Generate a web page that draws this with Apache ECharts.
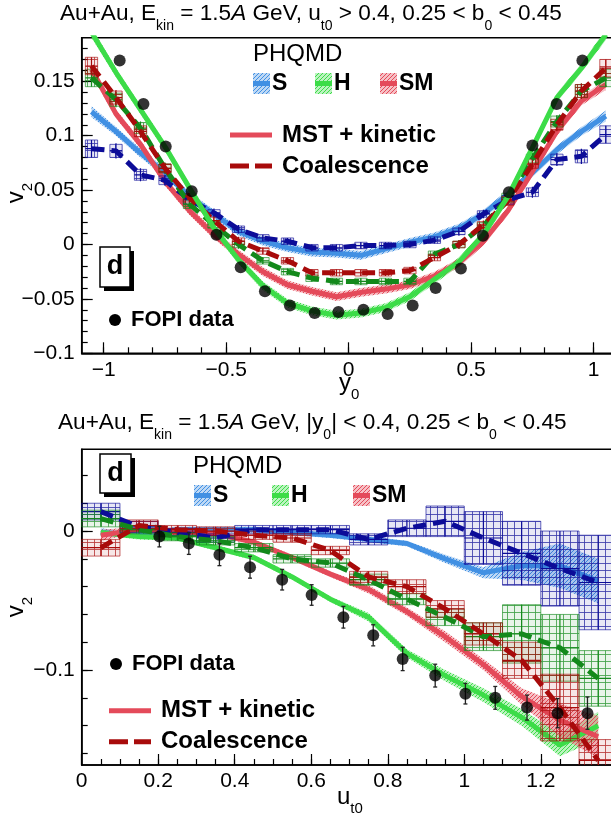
<!DOCTYPE html>
<html>
<head>
<meta charset="utf-8">
<script src="https://cdn.jsdelivr.net/npm/echarts@6/dist/echarts.min.js"></script>
<style>
  html, body { margin: 0; padding: 0; background: #fff; }
  #c { width: 611px; height: 821px; }
</style>
</head>
<body>
<div id="c"></div>
<script>
// ---------------- data: upper panel, v2 vs y0 ----------------
const yBins = [-1.05, -0.95, -0.85, -0.75, -0.65, -0.55, -0.45, -0.35, -0.25, -0.15, -0.05,
               0.05, 0.15, 0.25, 0.35, 0.45, 0.55, 0.65, 0.75, 0.85, 0.95, 1.05];
// MST + kinetic (solid, hatched band)
const topS_mst  = [0.122, 0.104, 0.084, 0.066, 0.044, 0.028, 0.012, 0.003, -0.003, -0.007, -0.008,
                   -0.010, -0.004, 0.002, 0.007, 0.015, 0.028, 0.046, 0.066, 0.087, 0.104, 0.118];
const topH_mst  = [0.195, 0.158, 0.124, 0.090, 0.052, 0.015, -0.014, -0.038, -0.054, -0.061, -0.065,
                   -0.063, -0.058, -0.048, -0.032, -0.016, 0.009, 0.044, 0.089, 0.135, 0.162, 0.193];
const topSM_mst = [0.161, 0.120, 0.092, 0.058, 0.031, 0.009, -0.009, -0.025, -0.037, -0.043, -0.048,
                   -0.044, -0.041, -0.037, -0.029, -0.017, 0.003, 0.031, 0.067, 0.104, 0.132, 0.147];
const topMstErr = [0.005, 0.004, 0.004, 0.004, 0.004, 0.004, 0.004, 0.004, 0.004, 0.004, 0.004,
                   0.004, 0.004, 0.004, 0.004, 0.004, 0.004, 0.004, 0.004, 0.004, 0.004, 0.005];
// Coalescence (dashed, error crosses + boxes)
const topS_coal  = [0.088, 0.086, 0.064, 0.059, 0.041, 0.029, 0.014, 0.006, 0.003, -0.003, -0.003,
                    -0.001, -0.001, 0.000, 0.004, 0.012, 0.028, 0.041, 0.048, 0.078, 0.081, 0.101];
const topH_coal  = [0.153, 0.133, 0.107, 0.070, 0.037, 0.018, 0.000, -0.015, -0.025, -0.031, -0.034,
                    -0.034, -0.034, -0.034, -0.009, 0.000, 0.017, 0.043, 0.079, 0.113, 0.141, 0.153];
const topSM_coal = [0.164, 0.135, 0.104, 0.070, 0.043, 0.022, 0.003, -0.006, -0.015, -0.026, -0.026,
                    -0.026, -0.026, -0.024, -0.012, 0.000, 0.018, 0.040, 0.074, 0.110, 0.141, 0.162];
const topCoalErr = [0.008, 0.007, 0.006, 0.005, 0.004, 0.004, 0.004, 0.003, 0.003, 0.003, 0.003,
                    0.003, 0.003, 0.003, 0.003, 0.004, 0.004, 0.004, 0.005, 0.006, 0.007, 0.008];
const topCoalBox = [0.008, 0.006, 0.005, 0.004, 0.004, 0.003, 0.003, 0.003, 0.003, 0.003, 0.003,
                    0.003, 0.003, 0.003, 0.003, 0.003, 0.003, 0.004, 0.004, 0.005, 0.006, 0.008];
// FOPI measurement
const topFopiY0 = [-0.935, -0.838, -0.747, -0.641, -0.540, -0.441, -0.342, -0.240, -0.139, -0.042,
                   0.060, 0.159, 0.261, 0.355, 0.458, 0.548, 0.654, 0.750, 0.849, 0.954];
const topFopiV2 = [0.169, 0.129, 0.090, 0.049, 0.009, -0.021, -0.043, -0.056, -0.063, -0.062,
                   -0.060, -0.064, -0.056, -0.040, -0.022, 0.008, 0.048, 0.091, 0.129, 0.169];

// ---------------- data: lower panel, v2 vs ut0 ----------------
const uBins = [0.05, 0.15, 0.25, 0.35, 0.45, 0.55, 0.65, 0.75, 0.85, 0.95, 1.05, 1.15, 1.25, 1.35];
const botS_mst     = [-0.001, -0.003, 0.001, 0.001, 0.001, -0.001, -0.003, -0.006, -0.009, -0.020, -0.030, -0.025, -0.025, -0.036];
const botS_mstErr  = [0.003, 0.002, 0.002, 0.002, 0.002, 0.002, 0.002, 0.002, 0.002, 0.003, 0.004, 0.010, 0.016, 0.016];
const botH_mst     = [-0.001, -0.004, -0.005, -0.012, -0.019, -0.033, -0.049, -0.062, -0.088, -0.104, -0.118, -0.134, -0.154, -0.140];
const botH_mstErr  = [0.002, 0.002, 0.002, 0.002, 0.002, 0.002, 0.002, 0.003, 0.003, 0.004, 0.005, 0.006, 0.008, 0.010];
const botSM_mst    = [-0.003, 0.001, -0.001, -0.002, -0.008, -0.019, -0.031, -0.042, -0.058, -0.076, -0.096, -0.119, -0.136, -0.148];
const botSM_mstErr = [0.004, 0.002, 0.002, 0.002, 0.002, 0.002, 0.002, 0.003, 0.003, 0.004, 0.004, 0.006, 0.012, 0.015];
const botS_coal     = [0.014, 0.003, -0.001, -0.005, 0.001, 0.001, 0.001, -0.006, 0.002, 0.007, -0.005, -0.016, -0.027, -0.037];
const botS_coalErr  = [0.006, 0.004, 0.003, 0.003, 0.003, 0.003, 0.003, 0.004, 0.006, 0.011, 0.019, 0.023, 0.027, 0.034];
const botH_coal     = [0.009, 0.001, -0.004, -0.007, -0.012, -0.020, -0.023, -0.035, -0.049, -0.062, -0.076, -0.074, -0.084, -0.106];
const botH_coalErr  = [0.006, 0.003, 0.003, 0.003, 0.003, 0.003, 0.003, 0.004, 0.004, 0.006, 0.010, 0.021, 0.024, 0.020];
const botSM_coal    = [-0.012, 0.004, 0.001, 0.000, -0.003, -0.005, -0.014, -0.033, -0.040, -0.056, -0.074, -0.093, -0.127, -0.165];
const botSM_coalErr = [0.006, 0.004, 0.003, 0.003, 0.003, 0.003, 0.003, 0.004, 0.005, 0.006, 0.008, 0.013, 0.024, 0.015];
const botFopiU   = [0.203, 0.280, 0.360, 0.440, 0.524, 0.601, 0.684, 0.762, 0.839, 0.924, 1.003, 1.081, 1.164, 1.244, 1.322];
const botFopiV2  = [-0.004, -0.009, -0.017, -0.026, -0.035, -0.046, -0.062, -0.075, -0.092, -0.104, -0.117, -0.120, -0.127, -0.131, -0.131];
const botFopiErr = [0.0074, 0.0078, 0.0079, 0.0079, 0.0074, 0.0074, 0.0078, 0.0076, 0.0084, 0.0082, 0.0074, 0.0082, 0.0090, 0.0105, 0.0116];

// ---------------- tick labels ----------------
const topXTicks = [-1, -0.5, 0, 0.5, 1];
const topYTicks = [-0.1, -0.05, 0, 0.05, 0.1, 0.15];
const botXTicks = [0, 0.2, 0.4, 0.6, 0.8, 1, 1.2];
const botYTicks = [-0.1, 0];

// ---------------- styling ----------------
const FONT = '"Liberation Sans", Arial, sans-serif';
const COL = {
  sL: '#4190e3', sD: '#0c0c98',
  hL: '#3cdc48', hD: '#13891b',
  smL: '#e44a5a', smD: '#a80b0b'
};

function steps(a, b, d) {            // evenly spaced tick positions
  const out = [];
  for (let v = a; v <= b + 1e-9; v += d) out.push(Math.round(v * 1000) / 1000);
  return out;
}
function fmt(v) {
  return String(Math.round(v * 1000) / 1000).replace('-', '\u2212');
}

// hatch fills drawn into small canvases
function diagHatch(color) {
  const c = document.createElement('canvas');
  c.width = c.height = 4;
  const g = c.getContext('2d');
  g.globalAlpha = 0.35; g.fillStyle = color; g.fillRect(0, 0, 4, 4);
  g.globalAlpha = 1; g.strokeStyle = color; g.lineWidth = 1;
  g.beginPath();
  g.moveTo(0, 4); g.lineTo(4, 0);
  g.moveTo(-2, 2); g.lineTo(2, -2);
  g.moveTo(2, 6); g.lineTo(6, 2);
  g.stroke();
  return { image: c, repeat: 'repeat' };
}
function gridHatch(color) {
  const c = document.createElement('canvas');
  c.width = c.height = 7;
  const g = c.getContext('2d');
  g.globalAlpha = 0.12; g.fillStyle = color; g.fillRect(0, 0, 7, 7);
  g.globalAlpha = 0.85; g.strokeStyle = color; g.lineWidth = 1;
  g.beginPath();
  g.moveTo(0, 3.5); g.lineTo(7, 3.5);
  g.moveTo(3.5, 0); g.lineTo(3.5, 7);
  g.stroke();
  return { image: c, repeat: 'repeat' };
}

const zip = (xs, ...cols) => xs.map((x, i) => [x, ...cols.map(c => c[i])]);

// ---------------- series builders ----------------
function band(ax, xs, ys, es, color) {
  const pat = diagHatch(color);
  return {
    type: 'custom', xAxisIndex: ax, yAxisIndex: ax, data: [[xs[0], ys[0]]], clip: true, z: 1,
    silent: true,
    renderItem: (params, api) => {
      const pts = [];
      for (let i = 0; i < xs.length; i++) pts.push(api.coord([xs[i], ys[i] + es[i]]));
      for (let i = xs.length - 1; i >= 0; i--) pts.push(api.coord([xs[i], ys[i] - es[i]]));
      return { type: 'polygon', shape: { points: pts }, style: { fill: pat, stroke: null } };
    }
  };
}
function solid(ax, xs, ys, color, z) {
  return {
    type: 'line', xAxisIndex: ax, yAxisIndex: ax, data: zip(xs, ys), symbol: 'none', z: z || 3,
    silent: true, lineStyle: { color: color, width: 5 }
  };
}
function dashed(ax, xs, ys, color) {
  return {
    type: 'line', xAxisIndex: ax, yAxisIndex: ax, data: zip(xs, ys), symbol: 'none', z: 5,
    silent: true, lineStyle: { color: color, width: 5, type: [13, 7] }
  };
}
function crosses(ax, xs, ys, es, bs, color, halfW) {
  const pat = gridHatch(color);
  return {
    type: 'custom', xAxisIndex: ax, yAxisIndex: ax, data: zip(xs, ys, es, bs), clip: true, z: 4,
    silent: true, encode: { x: 0, y: 1 },
    renderItem: (params, api) => {
      const x = api.value(0), y = api.value(1), e = api.value(2), b = api.value(3);
      const a = api.coord([x - halfW, y + b]), d = api.coord([x + halfW, y - b]);
      const t = api.coord([x, y + e]), u = api.coord([x, y - e]);
      const l = api.coord([x - halfW, y]), r = api.coord([x + halfW, y]);
      return {
        type: 'group', children: [
          { type: 'rect', shape: { x: a[0], y: a[1], width: d[0] - a[0], height: d[1] - a[1] },
            style: { fill: pat, stroke: color, lineWidth: 0.8, opacity: 0.8 } },
          { type: 'line', shape: { x1: t[0], y1: t[1], x2: u[0], y2: u[1] }, style: { stroke: color, lineWidth: 1.2 } },
          { type: 'line', shape: { x1: l[0], y1: l[1], x2: r[0], y2: r[1] }, style: { stroke: color, lineWidth: 1.2 } }
        ]
      };
    }
  };
}
function fopi(ax, xs, ys) {
  return {
    type: 'scatter', xAxisIndex: ax, yAxisIndex: ax, data: zip(xs, ys), symbol: 'circle',
    symbolSize: 12, itemStyle: { color: '#000' }, z: 8, silent: true
  };
}
function fopiErr(ax, xs, ys, es) {
  return {
    type: 'custom', xAxisIndex: ax, yAxisIndex: ax, data: zip(xs, ys, es), z: 7, silent: true,
    encode: { x: 0, y: 1 },
    renderItem: (params, api) => {
      const x = api.value(0), y = api.value(1), e = api.value(2);
      const t = api.coord([x, y + e]), b = api.coord([x, y - e]);
      const s = { stroke: '#222', lineWidth: 1.3 };
      return {
        type: 'group', children: [
          { type: 'line', shape: { x1: t[0], y1: t[1], x2: b[0], y2: b[1] }, style: s },
          { type: 'line', shape: { x1: t[0] - 2, y1: t[1], x2: t[0] + 2, y2: t[1] }, style: s },
          { type: 'line', shape: { x1: b[0] - 2, y1: b[1], x2: b[0] + 2, y2: b[1] }, style: s }
        ]
      };
    }
  };
}

// ---------------- axes ----------------
function mainAxis(dim, grid, min, max, ticks) {
  return {
    type: 'value', gridIndex: grid, min: min, max: max, position: dim === 'x' ? 'bottom' : 'left',
    axisLine: { show: true, onZero: false, lineStyle: { color: '#000', width: 1.5 } },
    axisTick: { show: true, inside: true, length: 11, customValues: ticks, lineStyle: { color: '#000', width: 1.2 } },
    axisLabel: { show: true, customValues: ticks, formatter: fmt, color: '#000', fontSize: 21, fontFamily: FONT,
                 margin: dim === 'x' ? 6 : 7, hideOverlap: false },
    splitLine: { show: false }
  };
}
function minorAxis(dim, grid, min, max, ticks) {
  return {
    type: 'value', gridIndex: grid, min: min, max: max, position: dim === 'x' ? 'bottom' : 'left',
    axisLine: { show: false, onZero: false },
    axisTick: { show: true, inside: true, length: 6, customValues: ticks, lineStyle: { color: '#000', width: 1.2 } },
    axisLabel: { show: false },
    splitLine: { show: false }
  };
}

// ---------------- text helpers ----------------
function richStyles(fs, subFs, subPad, bold) {
  const w = bold ? 'bold' : 'normal';
  return {
    m: { fontSize: fs, lineHeight: fs + 2, verticalAlign: 'top', fontFamily: FONT, fontWeight: w, color: '#000' },
    i: { fontSize: fs, lineHeight: fs + 2, verticalAlign: 'top', fontFamily: FONT, fontWeight: w, fontStyle: 'italic', color: '#000' },
    s: { fontSize: subFs, lineHeight: subFs, verticalAlign: 'top', padding: [subPad, 0, 0, 0], fontFamily: FONT, fontWeight: w, color: '#000' }
  };
}
function plainText(x, y, str, size, bold) {
  return {
    type: 'text', x: x, y: y, z: 100,
    style: { text: str, font: (bold ? 'bold ' : '') + size + 'px ' + FONT, fill: '#000',
             align: 'left', verticalAlign: 'middle', textAlign: 'left', textVerticalAlign: 'middle' }
  };
}
function dBox(x, y, w, h) {
  return [
    { type: 'rect', z: 100, shape: { x: x + 4, y: y + 4, width: w, height: h }, style: { fill: '#000' } },
    { type: 'rect', z: 101, shape: { x: x, y: y, width: w, height: h }, style: { fill: '#fff', stroke: '#000', lineWidth: 1.5 } },
    { type: 'text', z: 102, x: x + w / 2, y: y + h / 2,
      style: { text: 'd', font: 'bold 27px ' + FONT, fill: '#000', align: 'center', verticalAlign: 'middle',
               textAlign: 'center', textVerticalAlign: 'middle' } }
  ];
}
function modelKey(x, y, color) {
  return [
    { type: 'rect', z: 100, shape: { x: x, y: y, width: 17, height: 21 }, style: { fill: diagHatch(color) } },
    { type: 'line', z: 101, shape: { x1: x, y1: y + 10.5, x2: x + 17, y2: y + 10.5 }, style: { stroke: color, lineWidth: 5 } }
  ];
}
function legendBlock(o) {
  const g = [];
  g.push(plainText(o.phX, o.phY, 'PHQMD', 24, false));
  g.push(...modelKey(o.sX, o.keyY, COL.sL), plainText(o.sX + 19, o.keyY + 11, 'S', 23, true));
  g.push(...modelKey(o.hX, o.keyY, COL.hL), plainText(o.hX + 19, o.keyY + 11, 'H', 23, true));
  g.push(...modelKey(o.smX, o.keyY, COL.smL), plainText(o.smX + 19, o.keyY + 11, 'SM', 23, true));
  g.push({ type: 'line', z: 100, shape: { x1: o.lnX, y1: o.mstY, x2: o.lnX + 42, y2: o.mstY },
           style: { stroke: COL.smL, lineWidth: 5 } });
  g.push(plainText(o.lnX + 52, o.mstY, 'MST + kinetic', 24, true));
  g.push({ type: 'line', z: 100, shape: { x1: o.lnX, y1: o.coalY, x2: o.lnX + 42, y2: o.coalY },
           style: { stroke: COL.smD, lineWidth: 5, lineDash: [19, 6] } });
  g.push(plainText(o.lnX + 52, o.coalY, 'Coalescence', 24, true));
  g.push({ type: 'circle', z: 100, shape: { cx: o.fX, cy: o.fY, r: 6 }, style: { fill: '#000' } });
  g.push(plainText(o.fX + 16, o.fY, 'FOPI data', 22, true));
  return g;
}

// ---------------- chart ----------------
const chart = echarts.init(document.getElementById('c'), null, { renderer: 'canvas' });

const titleRich = richStyles(22.6, 14, 17, false);
const v2Rich = richStyles(24, 15, 16, false);

const gridBase = { show: true, borderColor: '#000', borderWidth: 1.5, backgroundColor: 'transparent',
                   containLabel: false, outerBoundsMode: 'none' };

const option = {
  animation: false,
  backgroundColor: '#fff',
  grid: [
    Object.assign({ left: 81.7, top: 37.7, width: 534, height: 315.6 }, gridBase),
    Object.assign({ left: 81.7, top: 449.3, width: 535.6, height: 315.7 }, gridBase)
  ],
  xAxis: [
    mainAxis('x', 0, -1.09, 1.09, topXTicks),
    minorAxis('x', 0, -1.09, 1.09, steps(-1, 1, 0.1)),
    mainAxis('x', 1, 0, 1.4, botXTicks),
    minorAxis('x', 1, 0, 1.4, steps(0.05, 1.35, 0.05))
  ],
  yAxis: [
    mainAxis('y', 0, -0.1, 0.19, topYTicks),
    minorAxis('y', 0, -0.1, 0.19, steps(-0.09, 0.18, 0.01)),
    mainAxis('y', 1, -0.1683, 0.0588, botYTicks),
    minorAxis('y', 1, -0.1683, 0.0588, steps(-0.16, 0.04, 0.02))
  ],
  series: [
    // upper panel
    band(0, yBins, topS_mst, topMstErr, COL.sL),
    band(0, yBins, topH_mst, topMstErr, COL.hL),
    band(0, yBins, topSM_mst, topMstErr, COL.smL),
    solid(0, yBins, topS_mst, COL.sL),
    solid(0, yBins, topSM_mst, COL.smL),
    crosses(0, yBins, topS_coal, topCoalErr, topCoalBox, COL.sD, 0.025),
    crosses(0, yBins, topH_coal, topCoalErr, topCoalBox, COL.hD, 0.025),
    crosses(0, yBins, topSM_coal, topCoalErr, topCoalBox, COL.smD, 0.025),
    dashed(0, yBins, topS_coal, COL.sD),
    dashed(0, yBins, topH_coal, COL.hD),
    dashed(0, yBins, topSM_coal, COL.smD),
    solid(0, yBins, topH_mst, COL.hL, 6),
    fopi(0, topFopiY0, topFopiV2),
    // lower panel
    band(2, uBins, botS_mst, botS_mstErr, COL.sL),
    band(2, uBins, botH_mst, botH_mstErr, COL.hL),
    band(2, uBins, botSM_mst, botSM_mstErr, COL.smL),
    solid(2, uBins, botS_mst, COL.sL),
    solid(2, uBins, botH_mst, COL.hL),
    solid(2, uBins, botSM_mst, COL.smL),
    crosses(2, uBins, botS_coal, botS_coalErr, botS_coalErr, COL.sD, 0.05),
    crosses(2, uBins, botH_coal, botH_coalErr, botH_coalErr, COL.hD, 0.05),
    crosses(2, uBins, botSM_coal, botSM_coalErr, botSM_coalErr, COL.smD, 0.05),
    dashed(2, uBins, botS_coal, COL.sD),
    dashed(2, uBins, botH_coal, COL.hD),
    dashed(2, uBins, botSM_coal, COL.smD),
    fopiErr(2, botFopiU, botFopiV2, botFopiErr),
    fopi(2, botFopiU, botFopiV2)
  ],
  graphic: [
    // panel headers
    { type: 'text', x: 60, y: 2.5, z: 100,
      style: { text: '{m|Au+Au, E}{s|kin}{m| = 1.5}{i|A}{m| GeV, u}{s|t0}{m| > 0.4, 0.25 < b}{s|0}{m| < 0.45}',
               rich: titleRich, align: 'left', verticalAlign: 'top' } },
    { type: 'text', x: 58, y: 411, z: 100,
      style: { text: '{m|Au+Au, E}{s|kin}{m| = 1.5}{i|A}{m| GeV, |y}{s|0}{m|| < 0.4, 0.25 < b}{s|0}{m| < 0.45}',
               rich: titleRich, align: 'left', verticalAlign: 'top' } },
    // axis titles
    { type: 'text', x: 339, y: 371, z: 100,
      style: { text: '{m|y}{s|0}', rich: v2Rich, align: 'left', verticalAlign: 'top' } },
    { type: 'text', x: 337, y: 785, z: 100,
      style: { text: '{m|u}{s|t0}', rich: v2Rich, align: 'left', verticalAlign: 'top' } },
    { type: 'text', x: 17, y: 193, z: 100, rotation: Math.PI / 2,
      style: { text: '{m|v}{s|2}', rich: v2Rich, align: 'center', verticalAlign: 'middle' } },
    { type: 'text', x: 17, y: 607, z: 100, rotation: Math.PI / 2,
      style: { text: '{m|v}{s|2}', rich: v2Rich, align: 'center', verticalAlign: 'middle' } },
    // "d" boxes
    ...dBox(100, 247, 30, 40),
    ...dBox(100, 454, 31, 39),
    // legends
    ...legendBlock({ phX: 253, phY: 54, sX: 253, hX: 315, smX: 380, keyY: 73,
                     lnX: 230, mstY: 135, coalY: 166, fX: 115, fY: 320 }),
    ...legendBlock({ phX: 193, phY: 466.5, sX: 194, hX: 272, smX: 353, keyY: 485,
                     lnX: 109, mstY: 710.7, coalY: 741.7, fX: 116, fY: 664 })
  ]
};

chart.setOption(option);
</script>
</body>
</html>
